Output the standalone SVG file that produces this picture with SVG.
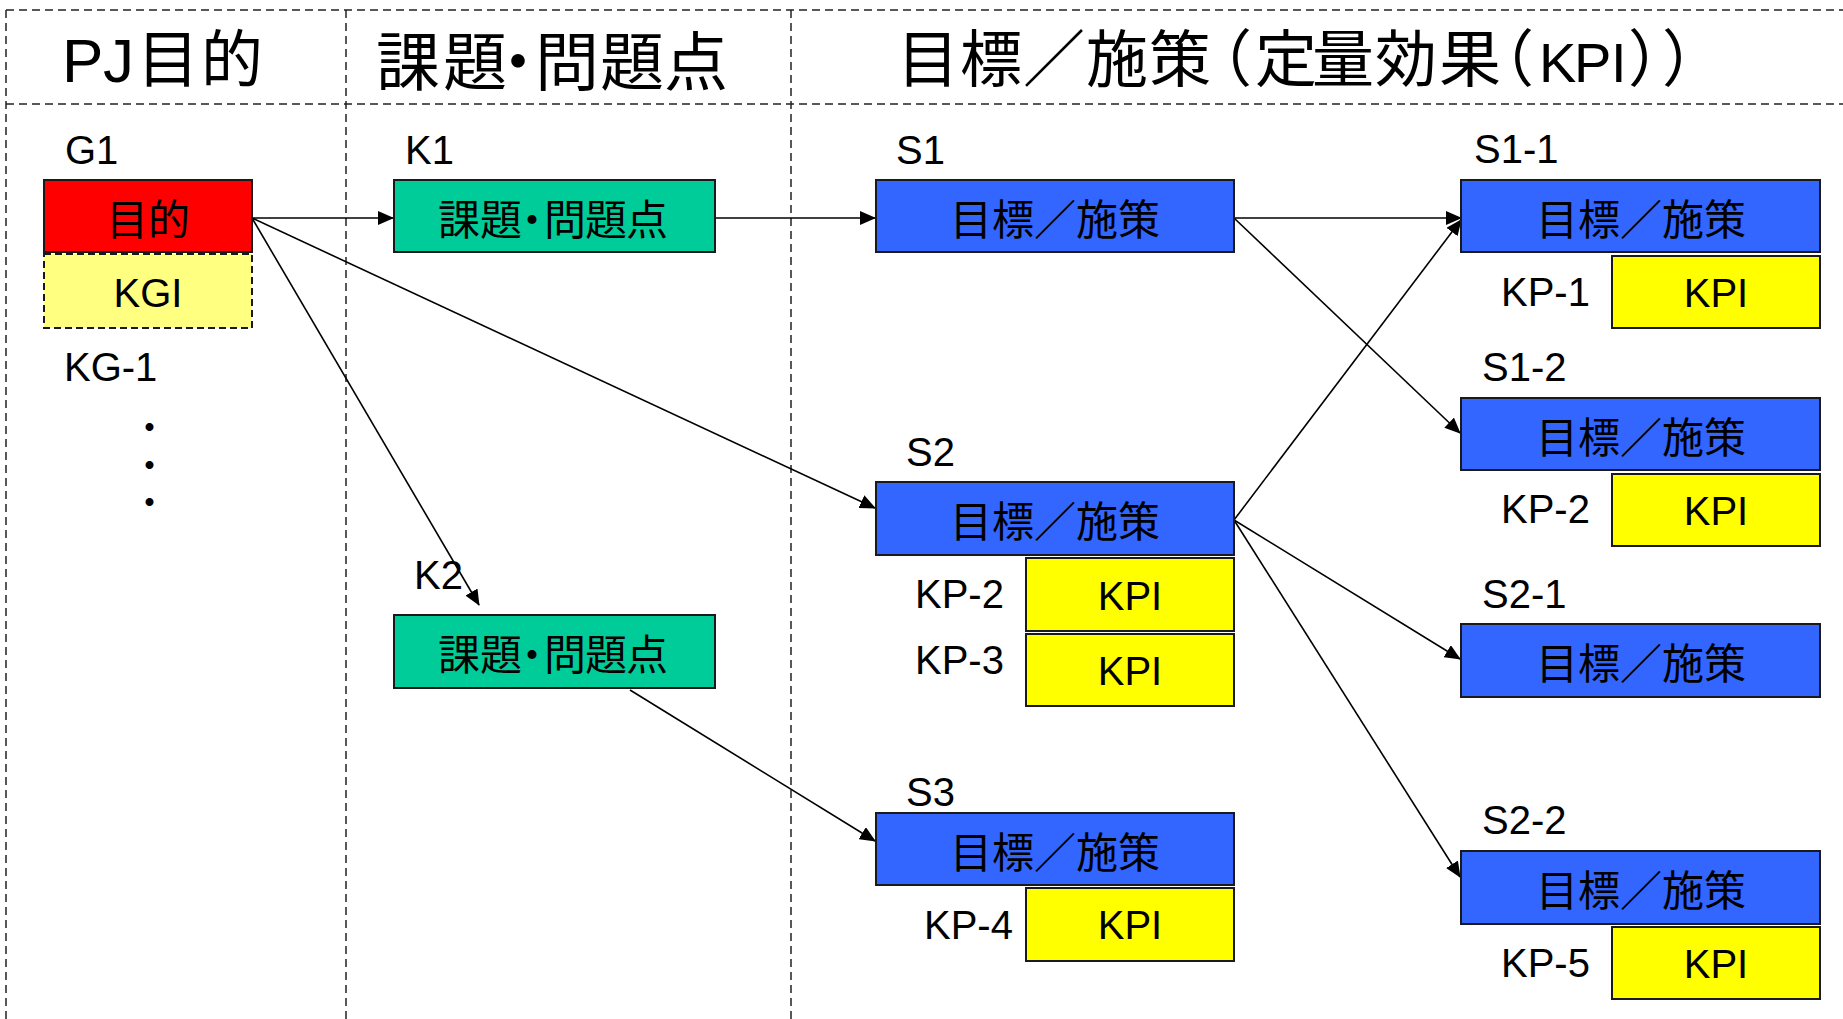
<svg xmlns="http://www.w3.org/2000/svg" width="1843" height="1019" viewBox="0 0 1843 1019">
<defs>
<style>
.lbl{font-family:"Liberation Sans",Arial,sans-serif;font-size:40px;fill:#000}
.jp{font-family:"Noto Sans CJK JP","Liberation Sans",sans-serif;font-size:42px;fill:#000}
.title{font-family:"Noto Sans CJK JP","Liberation Sans",sans-serif;font-size:62px;fill:#000}
.lat{font-family:"Liberation Sans",Arial,sans-serif}
.box{stroke:#1a1a1a;stroke-width:2}
.red{fill:#FF0000}
.blue{fill:#3366FF}
.green{fill:#00CC99}
.kpi{fill:#FFFF00}
.kgi{fill:#FFFF80;stroke:#1a1a1a;stroke-width:2;stroke-dasharray:7 4}
.grid{stroke:#222;stroke-width:1.5;stroke-dasharray:8 5;fill:none}
.conn{stroke:#000;stroke-width:1.6;fill:none;marker-end:url(#ah)}
.mid{text-anchor:middle}
</style>
<marker id="ah" markerUnits="userSpaceOnUse" markerWidth="16" markerHeight="14" refX="15" refY="7" orient="auto">
<path d="M0,0 L16,7 L0,14 Z" fill="#000"/>
</marker>
</defs>
<rect width="1843" height="1019" fill="#fff"/>

<g id="grid">
<line class="grid" x1="6" y1="10" x2="1843" y2="10"/>
<line class="grid" x1="6" y1="104" x2="1843" y2="104"/>
<line class="grid" x1="6" y1="10" x2="6" y2="1019"/>
<line class="grid" x1="346" y1="10" x2="346" y2="1019"/>
<line class="grid" x1="791" y1="10" x2="791" y2="1019"/>
</g>

<g id="headers">
<text class="title" y="82" x="62 103 137 201"><tspan class="lat" x="62 103">PJ</tspan><tspan x="137 201">目的</tspan></text>
<text class="title" style="font-size:64px" y="85" x="376 443 486 535 600 664">課題・問題点</text>
<text class="title" y="82" x="897 960 1023 1086 1149 1190 1255 1312 1375 1439 1472">目標／施策（定量効果（<tspan class="lat" style="font-size:56px" x="1539 1574 1611">KPI</tspan><tspan x="1628 1662">））</tspan></text>
</g>

<g id="connectors">
<line class="conn" x1="252" y1="218" x2="393" y2="218"/>
<line class="conn" x1="252" y1="218" x2="875" y2="508"/>
<line class="conn" x1="252" y1="218" x2="479" y2="605"/>
<line class="conn" x1="715" y1="218" x2="875" y2="218"/>
<line class="conn" x1="630" y1="690" x2="875" y2="841"/>
<line class="conn" x1="1234" y1="218" x2="1461" y2="218"/>
<line class="conn" x1="1234" y1="218" x2="1460" y2="433"/>
<line class="conn" x1="1234" y1="520" x2="1461" y2="220"/>
<line class="conn" x1="1234" y1="520" x2="1460" y2="659"/>
<line class="conn" x1="1234" y1="520" x2="1460" y2="877"/>
</g>

<g id="G1">
<text class="lbl" x="65" y="164">G1</text>
<rect class="box red" x="44" y="180" width="208" height="72"/>
<text class="jp mid" x="148" y="235">目的</text>
<rect class="kgi" x="44" y="254" width="208" height="74"/>
<text class="lbl mid" x="148" y="307">KGI</text>
<text class="lbl" x="64" y="381">KG-1</text>
<text class="jp" style="font-size:37.5px;writing-mode:vertical-rl" x="149.5" y="408">・・・</text>
</g>

<g id="K1">
<text class="lbl" x="405" y="164">K1</text>
<rect class="box green" x="394" y="180" width="321" height="72"/>
<text class="jp" y="235" x="438 480 511 544 585 626">課題・問題点</text>
</g>

<g id="K2">
<text class="lbl" x="414" y="589">K2</text>
<rect class="box green" x="394" y="615" width="321" height="73"/>
<text class="jp" y="670" x="438 480 511 544 585 626">課題・問題点</text>
</g>

<g id="S1">
<text class="lbl" x="896" y="164">S1</text>
<rect class="box blue" x="876" y="180" width="358" height="72"/>
<text class="jp mid" x="1055" y="235">目標／施策</text>
</g>

<g id="S2">
<text class="lbl" x="906" y="466">S2</text>
<rect class="box blue" x="876" y="482" width="358" height="73"/>
<text class="jp mid" x="1055" y="537">目標／施策</text>
<text class="lbl" x="915" y="608">KP-2</text>
<rect class="box kpi" x="1026" y="558" width="208" height="73"/>
<text class="lbl mid" x="1130" y="610">KPI</text>
<text class="lbl" x="915" y="674">KP-3</text>
<rect class="box kpi" x="1026" y="634" width="208" height="72"/>
<text class="lbl mid" x="1130" y="685">KPI</text>
</g>

<g id="S3">
<text class="lbl" x="906" y="806">S3</text>
<rect class="box blue" x="876" y="813" width="358" height="72"/>
<text class="jp mid" x="1055" y="868">目標／施策</text>
<text class="lbl" x="924" y="939">KP-4</text>
<rect class="box kpi" x="1026" y="888" width="208" height="73"/>
<text class="lbl mid" x="1130" y="939">KPI</text>
</g>

<g id="S1-1">
<text class="lbl" x="1474" y="163">S1-1</text>
<rect class="box blue" x="1461" y="180" width="359" height="72"/>
<text class="jp mid" x="1641" y="235">目標／施策</text>
<text class="lbl" x="1501" y="306">KP-1</text>
<rect class="box kpi" x="1612" y="256" width="208" height="72"/>
<text class="lbl mid" x="1716" y="307">KPI</text>
</g>

<g id="S1-2">
<text class="lbl" x="1482" y="381">S1-2</text>
<rect class="box blue" x="1461" y="398" width="359" height="72"/>
<text class="jp mid" x="1641" y="453">目標／施策</text>
<text class="lbl" x="1501" y="523">KP-2</text>
<rect class="box kpi" x="1612" y="474" width="208" height="72"/>
<text class="lbl mid" x="1716" y="525">KPI</text>
</g>

<g id="S2-1">
<text class="lbl" x="1482" y="608">S2-1</text>
<rect class="box blue" x="1461" y="624" width="359" height="73"/>
<text class="jp mid" x="1641" y="679">目標／施策</text>
</g>

<g id="S2-2">
<text class="lbl" x="1482" y="834">S2-2</text>
<rect class="box blue" x="1461" y="851" width="359" height="73"/>
<text class="jp mid" x="1641" y="906">目標／施策</text>
<text class="lbl" x="1501" y="977">KP-5</text>
<rect class="box kpi" x="1612" y="927" width="208" height="72"/>
<text class="lbl mid" x="1716" y="978">KPI</text>
</g>
</svg>
